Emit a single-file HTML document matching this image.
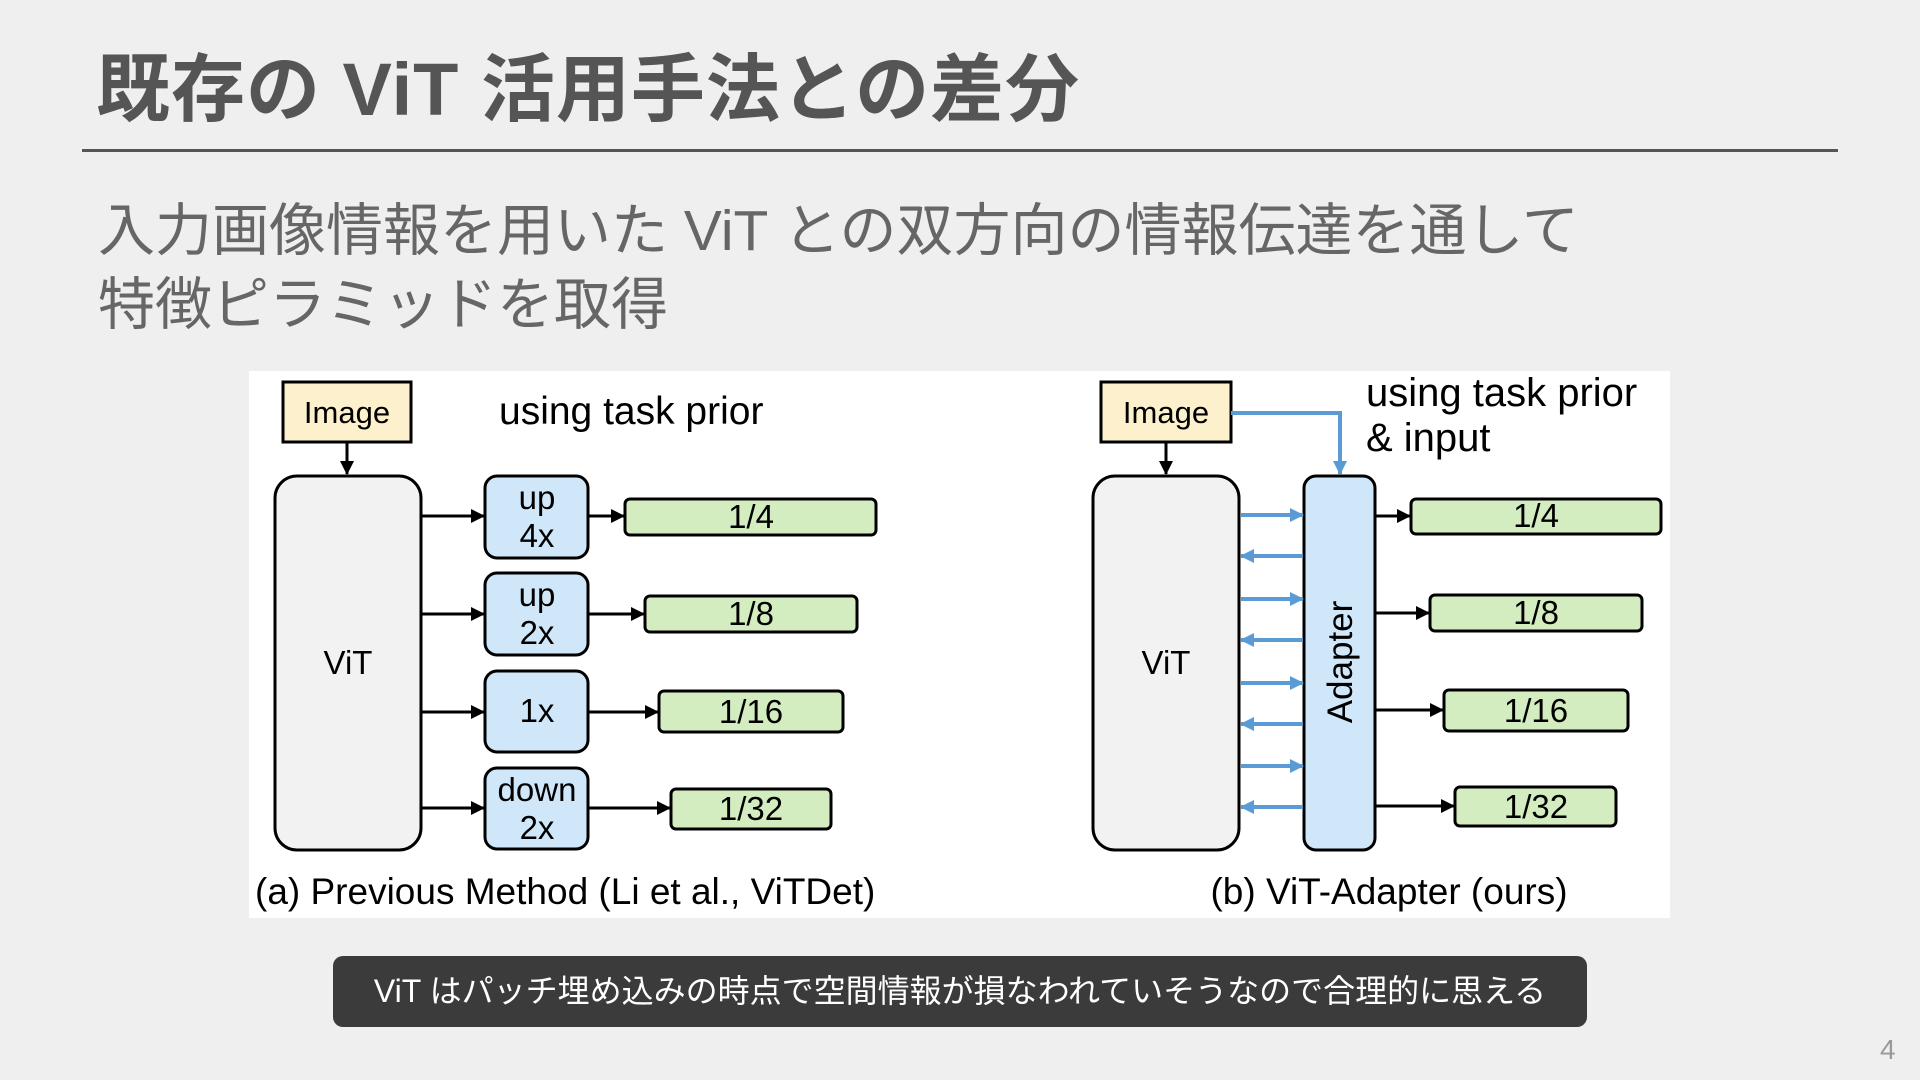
<!DOCTYPE html>
<html><head><meta charset="utf-8"><style>
html,body{margin:0;padding:0;}
body{width:1920px;height:1080px;background:#efefef;position:relative;overflow:hidden;font-family:"Liberation Sans","Noto Sans CJK JP",sans-serif;}
.title{position:absolute;left:96px;top:30px;font-size:74px;font-weight:bold;color:#555;letter-spacing:1px;}
.rule{position:absolute;left:82px;top:149px;width:1756px;height:3px;background:#555;}
.sub{position:absolute;left:98px;top:194px;font-size:57px;color:#666;line-height:74px;}
.note{position:absolute;left:333px;top:956px;width:1254px;height:71px;background:#3b3b3b;border-radius:10px;color:#fff;font-size:32px;text-align:center;line-height:71px;}
.pg{position:absolute;left:1880px;top:1034px;font-size:28px;color:#999;}
svg{position:absolute;left:0;top:0;}
</style></head><body>
<div class="title">既存の ViT 活用手法との差分</div>
<div class="rule"></div>
<div class="sub">入力画像情報を用いた ViT との双方向の情報伝達を通して<br>特徴ピラミッドを取得</div>
<svg width="1920" height="1080" font-family="Liberation Sans, sans-serif">
<defs>
<marker id="ab" markerWidth="14" markerHeight="14" refX="13" refY="7" orient="auto" markerUnits="userSpaceOnUse"><path d="M0,0 L14,7 L0,14z" fill="#000"/></marker>
<marker id="au" markerWidth="14" markerHeight="14" refX="13" refY="7" orient="auto" markerUnits="userSpaceOnUse"><path d="M0,0 L14,7 L0,14z" fill="#5b9bd5"/></marker>
</defs>
<rect x="249" y="371" width="1421" height="547" fill="#fff"/>
<!-- left panel -->
<rect x="283" y="382" width="128" height="60" fill="#fdf0cc" stroke="#000" stroke-width="3"/>
<text x="347" y="423" font-size="31" text-anchor="middle">Image</text>
<line x1="347" y1="443" x2="347" y2="474" stroke="#000" stroke-width="3" marker-end="url(#ab)"/>
<text x="499" y="424" font-size="39">using task prior</text>
<rect x="275" y="476" width="146" height="374" rx="22" fill="#f2f2f2" stroke="#000" stroke-width="3"/>
<text x="348" y="674" font-size="33" text-anchor="middle">ViT</text>
<g stroke="#000" stroke-width="3">
<line x1="421" y1="516" x2="484" y2="516" marker-end="url(#ab)"/>
<line x1="421" y1="614" x2="484" y2="614" marker-end="url(#ab)"/>
<line x1="421" y1="712" x2="484" y2="712" marker-end="url(#ab)"/>
<line x1="421" y1="808" x2="484" y2="808" marker-end="url(#ab)"/>
<line x1="588" y1="516" x2="624" y2="516" marker-end="url(#ab)"/>
<line x1="588" y1="614" x2="644" y2="614" marker-end="url(#ab)"/>
<line x1="588" y1="712" x2="658" y2="712" marker-end="url(#ab)"/>
<line x1="588" y1="808" x2="670" y2="808" marker-end="url(#ab)"/>
</g>
<g fill="#cfe7f8" stroke="#000" stroke-width="3">
<rect x="485" y="476" width="103" height="82" rx="12"/>
<rect x="485" y="573" width="103" height="82" rx="12"/>
<rect x="485" y="671" width="103" height="81" rx="12"/>
<rect x="485" y="768" width="103" height="81" rx="12"/>
</g>
<g font-size="33" text-anchor="middle">
<text x="537" y="509">up</text><text x="537" y="547">4x</text>
<text x="537" y="606">up</text><text x="537" y="644">2x</text>
<text x="537" y="722">1x</text>
<text x="537" y="801">down</text><text x="537" y="839">2x</text>
</g>
<g fill="#d3ecc0" stroke="#000" stroke-width="3">
<rect x="625" y="499" width="251" height="36" rx="5"/>
<rect x="645" y="596" width="212" height="36" rx="5"/>
<rect x="659" y="691" width="184" height="41" rx="5"/>
<rect x="671" y="789" width="160" height="40" rx="5"/>
</g>
<g font-size="33" text-anchor="middle">
<text x="751" y="528">1/4</text>
<text x="751" y="625">1/8</text>
<text x="751" y="723">1/16</text>
<text x="751" y="820">1/32</text>
</g>
<text x="255" y="904" font-size="37">(a) Previous Method (Li et al., ViTDet)</text>
<!-- right panel -->
<rect x="1101" y="382" width="130" height="60" fill="#fdf0cc" stroke="#000" stroke-width="3"/>
<text x="1166" y="423" font-size="31" text-anchor="middle">Image</text>
<line x1="1166" y1="443" x2="1166" y2="474" stroke="#000" stroke-width="3" marker-end="url(#ab)"/>
<polyline points="1231,413 1340,413 1340,474" fill="none" stroke="#5b9bd5" stroke-width="4" marker-end="url(#au)"/>
<text x="1366" y="406" font-size="40">using task prior</text>
<text x="1366" y="451" font-size="40">&amp; input</text>
<rect x="1093" y="476" width="146" height="374" rx="22" fill="#f2f2f2" stroke="#000" stroke-width="3"/>
<text x="1166" y="674" font-size="33" text-anchor="middle">ViT</text>
<rect x="1304" y="476" width="71" height="374" rx="12" fill="#cfe7f8" stroke="#000" stroke-width="3"/>
<text x="0" y="0" font-size="35" text-anchor="middle" transform="translate(1352,662) rotate(-90)">Adapter</text>
<g stroke="#5b9bd5" stroke-width="4">
<line x1="1241" y1="515" x2="1303" y2="515" marker-end="url(#au)"/>
<line x1="1303" y1="556" x2="1241" y2="556" marker-end="url(#au)"/>
<line x1="1241" y1="599" x2="1303" y2="599" marker-end="url(#au)"/>
<line x1="1303" y1="640" x2="1241" y2="640" marker-end="url(#au)"/>
<line x1="1241" y1="683" x2="1303" y2="683" marker-end="url(#au)"/>
<line x1="1303" y1="724" x2="1241" y2="724" marker-end="url(#au)"/>
<line x1="1241" y1="766" x2="1303" y2="766" marker-end="url(#au)"/>
<line x1="1303" y1="807" x2="1241" y2="807" marker-end="url(#au)"/>
</g>
<g stroke="#000" stroke-width="3">
<line x1="1375" y1="516" x2="1410" y2="516" marker-end="url(#ab)"/>
<line x1="1375" y1="613" x2="1429" y2="613" marker-end="url(#ab)"/>
<line x1="1375" y1="710" x2="1443" y2="710" marker-end="url(#ab)"/>
<line x1="1375" y1="806" x2="1454" y2="806" marker-end="url(#ab)"/>
</g>
<g fill="#d3ecc0" stroke="#000" stroke-width="3">
<rect x="1411" y="499" width="250" height="35" rx="5"/>
<rect x="1430" y="595" width="212" height="36" rx="5"/>
<rect x="1444" y="690" width="184" height="41" rx="5"/>
<rect x="1455" y="787" width="161" height="39" rx="5"/>
</g>
<g font-size="33" text-anchor="middle">
<text x="1536" y="527">1/4</text>
<text x="1536" y="624">1/8</text>
<text x="1536" y="722">1/16</text>
<text x="1536" y="818">1/32</text>
</g>
<text x="1389" y="904" font-size="37" text-anchor="middle">(b) ViT-Adapter (ours)</text>
</svg>
<div class="note">ViT はパッチ埋め込みの時点で空間情報が損なわれていそうなので合理的に思える</div>
<div class="pg">4</div>
</body></html>
